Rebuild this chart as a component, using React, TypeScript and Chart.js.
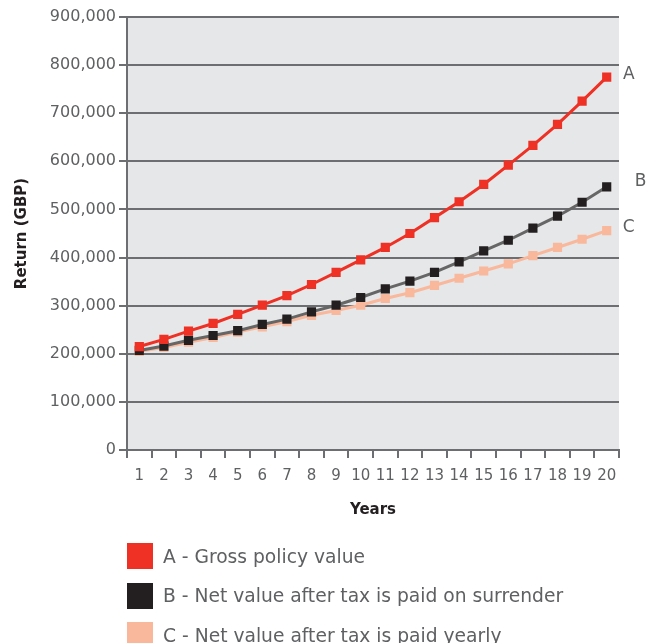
import React, { useEffect, useRef } from "react";
import { Chart, registerables } from "chart.js";

Chart.register(...registerables);

const years = ["1","2","3","4","5","6","7","8","9","10","11","12","13","14","15","16","17","18","19","20"];
const grossValue = [215000,230000,247000,263000,282000,301000,321000,344000,369000,395000,421000,450000,483000,516000,552000,592000,633000,677000,725000,775000];
const netOnSurrender = [207000,216000,228000,238000,248000,261000,272000,287000,301000,317000,335000,351000,369000,391000,414000,436000,461000,486000,515000,547000];
const netYearly = [205000,213000,224000,234000,245000,256000,267000,280000,290000,301000,315000,327000,342000,357000,372000,387000,404000,421000,438000,456000];
const seriesNames = ["A - Gross policy value","B - Net value after tax is paid on surrender","C - Net value after tax is paid yearly"];
const endLabels = ["A","B","C"];
const yTicks = [0,100000,200000,300000,400000,500000,600000,700000,800000,900000];

const FONT = "'DejaVu Sans', sans-serif";
const TEXT_GRAY = "#5f6062";
const RED = "#ee3124";
const BLACK = "#231f20";
const SALMON = "#f9b89b";
const LINE_GRAY = "#6d6e71";

const labelOffsets = [[22, -3], [34, -5.5], [22, -3.5]];

const bgPlugin = {
  id: "plotBg",
  beforeDraw(chart: any) {
    const { ctx, chartArea } = chart;
    ctx.save();
    ctx.fillStyle = "#e6e7e8";
    ctx.fillRect(chartArea.left, chartArea.top, chartArea.right - chartArea.left, chartArea.bottom - chartArea.top);
    ctx.restore();
  },
};

const endLabelPlugin = {
  id: "endLabels",
  afterDatasetsDraw(chart: any) {
    const { ctx } = chart;
    ctx.save();
    ctx.font = "17px " + FONT;
    ctx.fillStyle = TEXT_GRAY;
    ctx.textAlign = "center";
    ctx.textBaseline = "middle";
    chart.data.datasets.forEach((ds: any, i: number) => {
      const meta = chart.getDatasetMeta(i);
      const pt = meta.data[meta.data.length - 1];
      if (!pt) return;
      ctx.fillText(endLabels[i], pt.x + labelOffsets[i][0], pt.y + labelOffsets[i][1]);
    });
    ctx.restore();
  },
};

export default function App() {
  const ref = useRef<HTMLCanvasElement | null>(null);
  useEffect(() => {
    if (!ref.current) return;
    const mk = (label: string, data: number[], line: string, pt: string) => ({
      label,
      data,
      borderColor: line,
      backgroundColor: pt,
      pointBackgroundColor: pt,
      pointBorderColor: pt,
      borderWidth: 3,
      pointStyle: "rect",
      pointRadius: 6.5,
      pointBorderWidth: 0,
    });
    const chart = new Chart(ref.current, {
      type: "line",
      data: {
        labels: years,
        datasets: [
          mk(seriesNames[0], grossValue, RED, RED),
          mk(seriesNames[1], netOnSurrender, "#666666", BLACK),
          mk(seriesNames[2], netYearly, SALMON, SALMON),
        ] as any,
      },
      options: {
        animation: false,
        responsive: false,
        maintainAspectRatio: false,
        layout: { padding: { left: 0, right: 35, top: 17, bottom: 113 } },
        plugins: { legend: { display: false }, tooltip: { enabled: false } },
        scales: {
          x: {
            type: "category",
            offset: true,
            grid: { offset: true, drawOnChartArea: false, color: LINE_GRAY, lineWidth: 2, tickLength: 8, tickColor: LINE_GRAY },
            border: { color: LINE_GRAY, width: 2 },
            ticks: { color: TEXT_GRAY, font: { family: FONT, size: 15 }, padding: 9, maxRotation: 0, autoSkip: false },
            title: { display: true, text: "Years", color: BLACK, font: { family: FONT, size: 15, weight: "bold" }, padding: { top: 0, bottom: 11 } },
            afterFit: (s: any) => { s.height = 80; },
          },
          y: {
            min: 0,
            max: 900000,
            afterBuildTicks: (s: any) => { s.ticks = yTicks.map((v) => ({ value: v })); },
            grid: { color: LINE_GRAY, lineWidth: 2, tickLength: 8, tickColor: LINE_GRAY },
            border: { color: LINE_GRAY, width: 2 },
            ticks: {
              color: TEXT_GRAY,
              font: { family: FONT, size: 16 },
              padding: 3,
              callback: (v: any) => Number(v).toLocaleString("en-GB"),
            },
            title: { display: true, text: "Return (GBP)", color: BLACK, font: { family: FONT, size: 15, weight: "bold" }, padding: { top: 13, bottom: 0 } },
            afterFit: (s: any) => { s.width = 127; },
          },
        },
      },
      plugins: [bgPlugin, endLabelPlugin],
    });
    return () => chart.destroy();
  }, []);

  const swatches = [RED, BLACK, SALMON];
  return (
    <div style={{ position: "fixed", left: 0, top: 0, width: 654, height: 643, background: "#fff", overflow: "hidden" }}>
      <canvas ref={ref} width={654} height={643} style={{ position: "absolute", left: 0, top: 0, width: 654, height: 643 }} />
      {seriesNames.map((name, i) => (
        <div key={name} style={{ position: "absolute", left: 127, top: 543 + i * 39.5, height: 26, display: "flex", alignItems: "center", whiteSpace: "nowrap" }}>
          <div style={{ width: 26, height: 26, background: swatches[i], marginRight: 10 }} />
          <span style={{ fontFamily: FONT, fontSize: 18.7, color: TEXT_GRAY }}>{name}</span>
        </div>
      ))}
    </div>
  );
}
